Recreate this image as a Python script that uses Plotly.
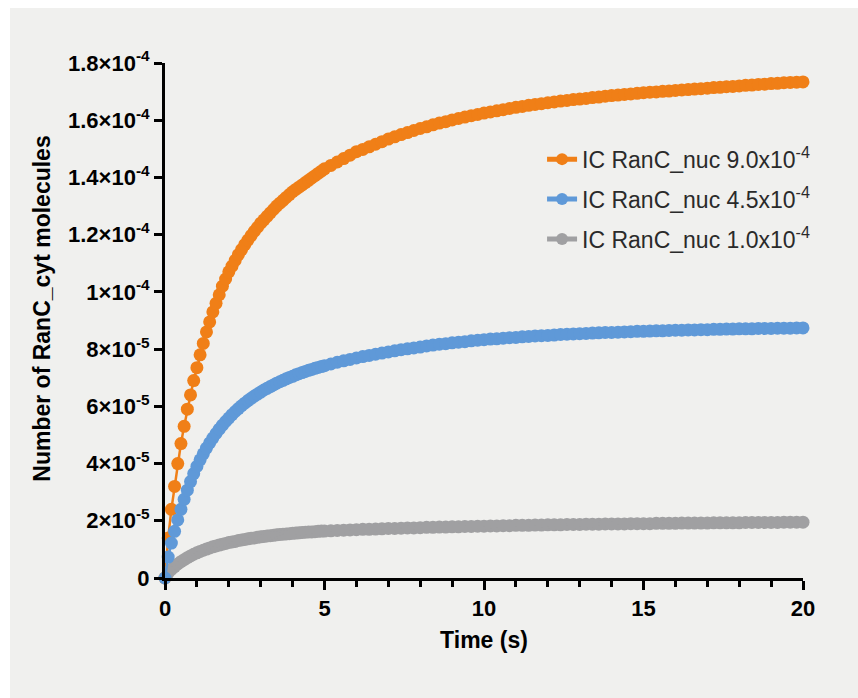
import plotly.graph_objects as go

# Time (s)
time_s = [0, 0.1, 0.2, 0.3, 0.4, 0.5, 0.6, 0.7, 0.8, 0.9, 1.0, 1.1, 1.2, 1.3, 1.4, 1.5, 1.6, 1.7, 1.8, 1.9, 2.0,
          2.1, 2.2, 2.3, 2.4, 2.5, 2.6, 2.7, 2.8, 2.9, 3.0, 3.1, 3.2, 3.3, 3.4, 3.5, 3.6, 3.7, 3.8, 3.9, 4.0,
          4.1, 4.2, 4.3, 4.4, 4.5, 4.6, 4.7, 4.8, 4.9, 5.0,
          5.2, 5.4, 5.6, 5.8, 6.0, 6.2, 6.4, 6.6, 6.8, 7.0, 7.2, 7.4, 7.6, 7.8, 8.0,
          8.2, 8.4, 8.6, 8.8, 9.0, 9.2, 9.4, 9.6, 9.8, 10.0, 10.2, 10.4, 10.6, 10.8, 11.0,
          11.2, 11.4, 11.6, 11.8, 12.0, 12.2, 12.4, 12.6, 12.8, 13.0, 13.2, 13.4, 13.6, 13.8, 14.0,
          14.2, 14.4, 14.6, 14.8, 15.0, 15.2, 15.4, 15.6, 15.8, 16.0, 16.2, 16.4, 16.6, 16.8, 17.0,
          17.2, 17.4, 17.6, 17.8, 18.0, 18.2, 18.4, 18.6, 18.8, 19.0, 19.2, 19.4, 19.6, 19.8, 20.0]

# RanC_cyt molecules, in units of 1e-4
ic_9_0 = [0, 0.14, 0.24, 0.32, 0.40, 0.47, 0.53, 0.59, 0.64, 0.69, 0.735, 0.78, 0.82, 0.86, 0.895, 0.93, 0.96, 0.99, 1.02, 1.045, 1.07,
          1.09, 1.11, 1.13, 1.148, 1.165, 1.181, 1.197, 1.212, 1.226, 1.24, 1.252, 1.264, 1.276, 1.288, 1.30, 1.31, 1.32, 1.33, 1.34, 1.35,
          1.358, 1.366, 1.374, 1.382, 1.39, 1.398, 1.406, 1.414, 1.422, 1.43,
          1.442, 1.454, 1.466, 1.478, 1.49, 1.498, 1.507, 1.516, 1.525, 1.534, 1.542, 1.55, 1.557, 1.564, 1.571,
          1.577, 1.584, 1.59, 1.595, 1.601, 1.606, 1.611, 1.616, 1.62, 1.625, 1.629, 1.633, 1.637, 1.641, 1.645,
          1.648, 1.652, 1.655, 1.658, 1.661, 1.664, 1.667, 1.669, 1.672, 1.674, 1.676, 1.679, 1.681, 1.684, 1.686,
          1.688, 1.69, 1.692, 1.694, 1.696, 1.698, 1.699, 1.701, 1.702, 1.704, 1.706, 1.707, 1.709, 1.71, 1.712,
          1.714, 1.715, 1.717, 1.718, 1.72, 1.722, 1.723, 1.725, 1.726, 1.728, 1.729, 1.731, 1.732, 1.733, 1.734]

ic_4_5 = [0, 0.073, 0.122, 0.163, 0.203, 0.24, 0.275, 0.307, 0.337, 0.365, 0.39, 0.413, 0.434, 0.454, 0.472, 0.489, 0.505, 0.52, 0.534, 0.547, 0.559,
          0.571, 0.582, 0.592, 0.602, 0.611, 0.62, 0.628, 0.636, 0.643, 0.65, 0.657, 0.663, 0.669, 0.675, 0.681, 0.686, 0.691, 0.696, 0.701, 0.705,
          0.71, 0.714, 0.718, 0.722, 0.726, 0.729, 0.733, 0.736, 0.739, 0.742,
          0.748, 0.754, 0.759, 0.764, 0.769, 0.774, 0.778, 0.782, 0.786, 0.79, 0.794, 0.798, 0.801, 0.804, 0.807,
          0.811, 0.814, 0.817, 0.819, 0.822, 0.824, 0.826, 0.829, 0.831, 0.833, 0.835, 0.836, 0.838, 0.84, 0.841,
          0.843, 0.844, 0.846, 0.847, 0.848, 0.849, 0.851, 0.852, 0.853, 0.854, 0.855, 0.856, 0.857, 0.858, 0.858,
          0.859, 0.86, 0.861, 0.862, 0.862, 0.863, 0.864, 0.864, 0.865, 0.866, 0.866, 0.867, 0.867, 0.868, 0.868,
          0.869, 0.869, 0.87, 0.87, 0.871, 0.871, 0.871, 0.872, 0.872, 0.872, 0.873, 0.873, 0.873, 0.874, 0.874]

ic_1_0 = [0, 0.018, 0.03, 0.04, 0.049, 0.057, 0.064, 0.071, 0.077, 0.083, 0.088, 0.093, 0.097, 0.101, 0.105, 0.109, 0.112, 0.115, 0.118, 0.121, 0.124,
          0.126, 0.128, 0.131, 0.133, 0.135, 0.137, 0.139, 0.14, 0.142, 0.144, 0.145, 0.147, 0.148, 0.149, 0.151, 0.152, 0.153, 0.154, 0.155, 0.156,
          0.157, 0.158, 0.159, 0.16, 0.161, 0.161, 0.162, 0.163, 0.164, 0.164,
          0.165, 0.166, 0.167, 0.168, 0.169, 0.17, 0.17, 0.171, 0.172, 0.173, 0.173, 0.174, 0.175, 0.175, 0.176,
          0.177, 0.177, 0.178, 0.178, 0.179, 0.179, 0.18, 0.18, 0.181, 0.181, 0.182, 0.182, 0.183, 0.183, 0.184,
          0.184, 0.184, 0.185, 0.185, 0.186, 0.186, 0.186, 0.187, 0.187, 0.187, 0.188, 0.188, 0.188, 0.189, 0.189,
          0.189, 0.189, 0.19, 0.19, 0.19, 0.19, 0.191, 0.191, 0.191, 0.191, 0.192, 0.192, 0.192, 0.192, 0.192,
          0.193, 0.193, 0.193, 0.193, 0.193, 0.194, 0.194, 0.194, 0.194, 0.194, 0.194, 0.195, 0.195, 0.195, 0.195]

series_names = ["IC RanC_nuc 9.0x10<sup>-4</sup>", "IC RanC_nuc 4.5x10<sup>-4</sup>", "IC RanC_nuc 1.0x10<sup>-4</sup>"]
series_colors = ["#F07F17", "#5F99D8", "#A0A0A2"]

y_tickvals = [0, 0.2, 0.4, 0.6, 0.8, 1.0, 1.2, 1.4, 1.6, 1.8]
y_ticktext = ["0", "2×10<sup>-5</sup>", "4×10<sup>-5</sup>", "6×10<sup>-5</sup>", "8×10<sup>-5</sup>",
              "1×10<sup>-4</sup>", "1.2×10<sup>-4</sup>", "1.4×10<sup>-4</sup>", "1.6×10<sup>-4</sup>", "1.8×10<sup>-4</sup>"]
x_tickvals = [0, 5, 10, 15, 20]

FONT = "Arial, 'Liberation Sans', sans-serif"
BG = "#F0F0EE"

fig = go.Figure()
# draw order: orange, gray, blue (blue on top); legend order orange, blue, gray
for vals, name, color, rank in [(ic_9_0, series_names[0], series_colors[0], 1),
                                (ic_1_0, series_names[2], series_colors[2], 3),
                                (ic_4_5, series_names[1], series_colors[1], 2)]:
    fig.add_trace(go.Scatter(
        x=time_s, y=vals, name=name, mode="lines+markers",
        line=dict(color=color, width=2.5),
        marker=dict(color=color, size=13, line=dict(width=0)),
        cliponaxis=False, legendrank=rank, legendgroup=name,
    ))

fig.update_layout(
    width=858, height=698,
    margin=dict(l=165, r=55, t=63, b=120),
    paper_bgcolor="white", plot_bgcolor=BG,
    font=dict(family=FONT, color="black"),
    showlegend=True,
    legend=dict(x=0.591, y=0.855, xanchor="left", yanchor="top",
                bgcolor="rgba(0,0,0,0)", font=dict(size=23, color="#2a2a2a"),
                traceorder="grouped", tracegroupgap=7, itemsizing="constant"),
    shapes=[dict(type="rect", xref="paper", yref="paper", x0=-0.243, x1=1.09, y0=-0.24, y1=1.107,
                 fillcolor=BG, line=dict(width=0), layer="below")],
    annotations=[dict(text="<b>Number of RanC_cyt molecules</b>", xref="paper", yref="paper",
                      x=-0.192, y=0.522, xanchor="center", yanchor="middle", textangle=-90,
                      showarrow=False, font=dict(size=23, color="black", family=FONT))],
)

fig.update_xaxes(
    range=[0, 20], showgrid=False, zeroline=False,
    showline=True, linecolor="black", linewidth=3,
    tickmode="array", tickvals=x_tickvals, ticks="outside", ticklen=9, tickwidth=3, tickcolor="black",
    minor=dict(dtick=1, tick0=0, ticks="outside", ticklen=6, tickwidth=2.5, tickcolor="black"),
    tickfont=dict(size=22, family=FONT, color="black", weight="bold"),
    title=dict(text="<b>Time (s)</b>", font=dict(size=23, color="black"), standoff=12),
)
fig.update_yaxes(
    range=[0, 1.8], showgrid=False, zeroline=False,
    showline=True, linecolor="black", linewidth=3,
    tickmode="array", tickvals=y_tickvals, ticktext=y_ticktext,
    ticks="outside", ticklen=8, tickwidth=3, tickcolor="black",
    tickfont=dict(size=22, family=FONT, color="black", weight="bold"),
)

fig.write_html("out.html")
